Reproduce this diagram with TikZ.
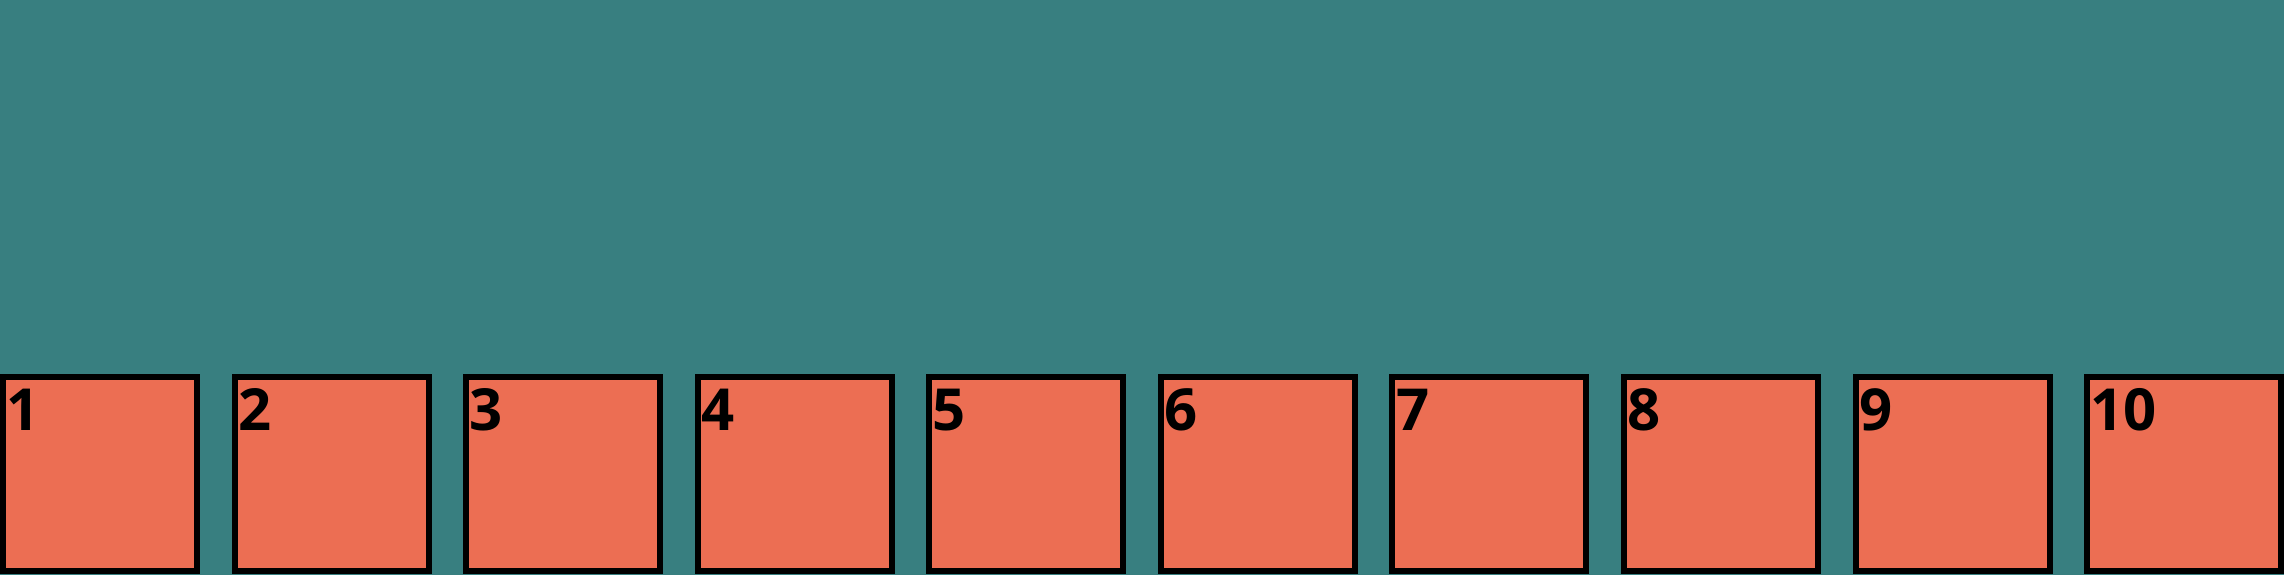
\documentclass[tikz,border=0pt]{standalone}
\usepackage{fontspec}
\setmainfont{Open Sans}
\definecolor{teal}{RGB}{56,127,128}
\definecolor{salmon}{RGB}{236,110,83}
\tikzset{
  cell/.style={draw=black,fill=salmon,line width=0.06cm,minimum size=1.94cm,inner sep=0,outer sep=0},
  num/.style={anchor=north west,inner sep=0,font=\fontsize{16.5}{16.5}\selectfont\bfseries}
}
\begin{document}
\begin{tikzpicture}
            \useasboundingbox (0,0) rectangle (22.84,5.74);
            \fill [teal] (-0.2,-0.2) rectangle (23,6);
            \foreach \i in {1,...,10}{
                \node [cell] (c\i) at ({(\i-1)*2.3156+1},1) {};
                \node [num] (n\i) at ([xshift=0.03cm,yshift=-0.11cm]c\i.north west) {\i};
            }
        \end{tikzpicture}
\end{document}
